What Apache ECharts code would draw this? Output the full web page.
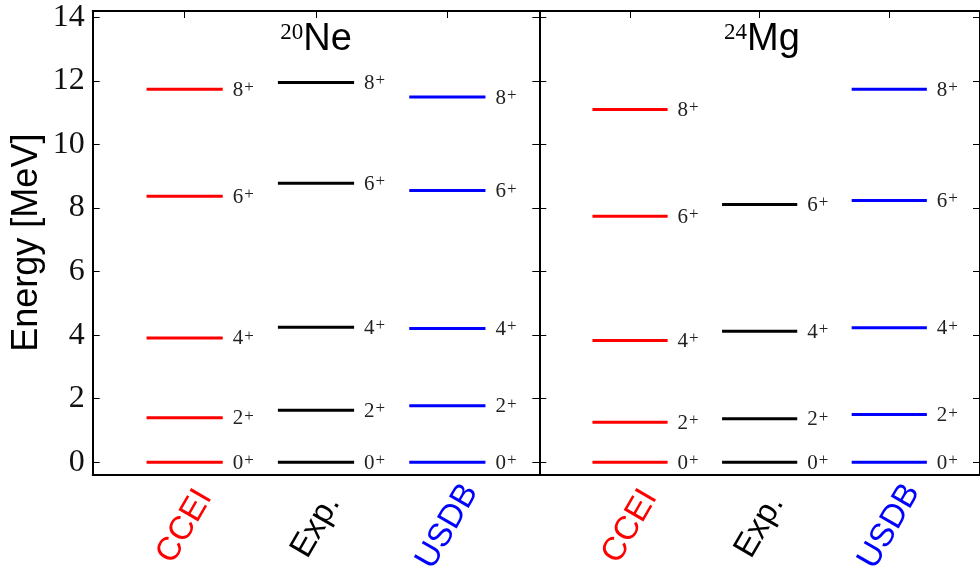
<!DOCTYPE html>
<html>
<head>
<meta charset="utf-8">
<script src="https://cdn.jsdelivr.net/npm/echarts@6/dist/echarts.min.js"></script>
<style>
  html, body { margin: 0; padding: 0; background: #fff; }
  #main { width: 980px; height: 577px; }
</style>
</head>
<body>
<div id="main"></div>
<script>
// data (MeV)
var categories = ['CCEI', 'Exp.', 'USDB'];
var catColors = ['#ff0000', '#000000', '#0000ff'];
var spins = ['0', '2', '4', '6', '8'];
var yTicks = [0, 2, 4, 6, 8, 10, 12, 14];

var ne20CCEI = [0, 1.40, 3.91, 8.37, 11.74];
var ne20Exp  = [0, 1.634, 4.248, 8.777, 11.951];
var ne20USDB = [0, 1.78, 4.21, 8.55, 11.49];

var mg24CCEI = [0, 1.26, 3.83, 7.74, 11.10];
var mg24Exp  = [0, 1.369, 4.123, 8.114];
var mg24USDB = [0, 1.50, 4.23, 8.24, 11.74];

var myChart = echarts.init(document.getElementById('main'));

var halfW = 0.29;
var serif = 'Liberation Serif';
var sans = 'Liberation Sans';

function levelSeries(panel, cat, values) {
    return {
        type: 'custom',
        xAxisIndex: panel * 2,
        yAxisIndex: panel * 2,
        color: catColors[cat],
        data: values.map(function (e) { return [cat, e]; }),
        renderItem: function (params, api) {
            var x = api.value(0), e = api.value(1);
            var p1 = api.coord([x - halfW, e]);
            var p2 = api.coord([x + halfW, e]);
            return {
                type: 'group',
                children: [
                    {
                        type: 'line',
                        shape: { x1: p1[0], y1: p1[1], x2: p2[0], y2: p2[1] },
                        style: { stroke: catColors[cat], lineWidth: 3 }
                    },
                    {
                        type: 'text',
                        x: p2[0] + 10,
                        y: p2[1] + 1,
                        style: {
                            text: '{n|' + spins[params.dataIndex] + '}{s|+}',
                            align: 'left',
                            verticalAlign: 'middle',
                            rich: {
                                n: { fontFamily: serif, fontSize: 21, fill: '#222', lineHeight: 22 },
                                s: { fontFamily: serif, fontSize: 17, fill: '#222', verticalAlign: 'top', padding: [0, 0, 0, 1] }
                            }
                        }
                    }
                ]
            };
        }
    };
}

var grids = [
    { left: 92.7, top: 11, width: 446.6, height: 463.3 },
    { left: 539.3, top: 11, width: 446.6, height: 463.3 }
];

var frameLine = { show: true, onZero: false, lineStyle: { color: '#000', width: 2 } };
var xAxes = [], yAxes = [];
[0, 1].forEach(function (g) {
    xAxes.push({
        type: 'value', gridIndex: g, position: 'bottom', min: -0.7, max: 2.7,
        splitLine: { show: false },
        axisLine: frameLine,
        axisTick: { show: false },
        axisLabel: {
            customValues: [0, 1, 2],
            rotate: 60, align: 'center', verticalAlign: 'middle', margin: 52,
            formatter: function (v) { return '{c' + v + '|' + categories[v] + '}'; },
            rich: {
                c0: { color: catColors[0], fontFamily: sans, fontSize: 33 },
                c1: { color: catColors[1], fontFamily: sans, fontSize: 33 },
                c2: { color: catColors[2], fontFamily: sans, fontSize: 33 }
            }
        }
    });
    xAxes.push({
        type: 'value', gridIndex: g, position: 'top', min: -0.7, max: 2.7,
        splitLine: { show: false },
        axisLine: frameLine,
        axisTick: { show: true, inside: true, length: 7, customValues: [0, 1, 2], lineStyle: { color: '#000', width: 1 } },
        axisLabel: { show: false }
    });
    yAxes.push({
        type: 'value', gridIndex: g, position: 'left', min: -0.38, max: 14.2,
        name: g === 0 ? 'Energy [MeV]' : '',
        nameLocation: 'middle', nameGap: 48,
        nameTextStyle: { fontFamily: sans, fontSize: 36, color: '#000' },
        splitLine: { show: false },
        axisLine: frameLine,
        axisTick: { show: true, inside: true, length: 7, customValues: yTicks, lineStyle: { color: '#000', width: 1 } },
        axisLabel: {
            show: g === 0, customValues: yTicks, margin: 8,
            fontFamily: serif, fontSize: 32, color: '#111'
        }
    });
    yAxes.push({
        type: 'value', gridIndex: g, position: 'right', min: -0.38, max: 14.2,
        splitLine: { show: false },
        axisLine: frameLine,
        axisTick: { show: true, inside: true, length: 7, customValues: yTicks, lineStyle: { color: '#000', width: 1 } },
        axisLabel: { show: false }
    });
});

function panelTitle(sup, name, cx) {
    return {
        text: '{s|' + sup + '}{m|' + name + '}',
        left: cx, top: 19, textAlign: 'center', padding: 0,
        textStyle: {
            fontWeight: 'normal',
            rich: {
                s: { fontFamily: serif, fontSize: 23, fontWeight: 'normal', color: '#000', verticalAlign: 'top', padding: [2, 0, 0, 0] },
                m: { fontFamily: sans, fontSize: 38, fontWeight: 'normal', color: '#000', lineHeight: 42 }
            }
        }
    };
}

var option = {
    animation: false,
    backgroundColor: '#fff',
    title: [
        panelTitle('20', 'Ne', 316),
        panelTitle('24', 'Mg', 762)
    ],
    grid: grids,
    xAxis: xAxes,
    yAxis: yAxes,
    series: [
        levelSeries(0, 0, ne20CCEI),
        levelSeries(0, 1, ne20Exp),
        levelSeries(0, 2, ne20USDB),
        levelSeries(1, 0, mg24CCEI),
        levelSeries(1, 1, mg24Exp),
        levelSeries(1, 2, mg24USDB)
    ]
};

myChart.setOption(option);
</script>
</body>
</html>
